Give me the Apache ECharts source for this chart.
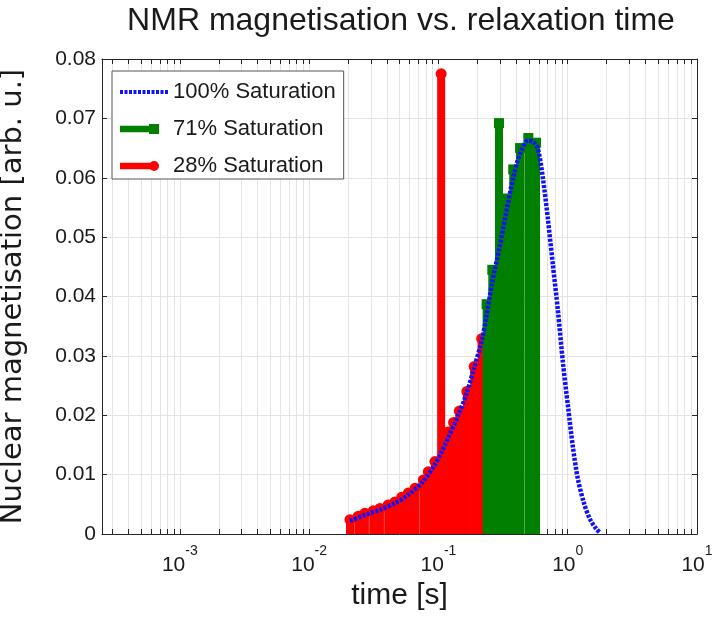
<!DOCTYPE html>
<html>
<head>
<meta charset="utf-8">
<title>NMR magnetisation vs. relaxation time</title>
<script src="https://cdn.jsdelivr.net/npm/echarts@6/dist/echarts.min.js"></script>
<style>
  html, body { margin: 0; padding: 0; background: #fff; }
  #chart { width: 714px; height: 619px; }
</style>
</head>
<body>
<div id="chart"></div>
<script>
  // 100% saturation curve (time in s, magnetisation in arb. u.)
  var fullT = [0.0207, 0.027, 0.0353, 0.0461, 0.0585, 0.0764, 0.094, 0.105, 0.119, 0.143, 0.166, 0.189, 0.216,
               0.236, 0.261, 0.294, 0.33, 0.379, 0.428, 0.496, 0.545, 0.589, 0.644, 0.703, 0.769, 0.841,
               0.919, 1.005, 1.099, 1.2, 1.336, 1.486, 1.655, 1.778];
  var fullV = [0.0022, 0.0032, 0.0041, 0.0052, 0.0066, 0.0089, 0.0117, 0.0137, 0.0162, 0.0201, 0.0238, 0.028, 0.0325,
               0.0368, 0.0425, 0.0478, 0.0535, 0.0600, 0.0641, 0.0663, 0.0660, 0.0648, 0.0598, 0.053, 0.0452, 0.0375,
               0.0288, 0.0215, 0.0145, 0.0092, 0.0052, 0.0025, 0.0009, 0.0002];

  // 71% saturation stems
  var greenT = [0.236, 0.261, 0.294, 0.318, 0.337, 0.379, 0.428, 0.496, 0.569];
  var greenV = [0.0387, 0.0445, 0.0692, 0.0512, 0.0565, 0.0614, 0.0650, 0.0667, 0.0659];

  // 28% saturation stems
  var redT = [0.0207, 0.024, 0.027, 0.0313, 0.0353, 0.0409, 0.0461, 0.052, 0.0585, 0.0659, 0.0764, 0.0836,
              0.094, 0.105, 0.119, 0.131, 0.145, 0.166, 0.189, 0.216];
  var redV = [0.0024, 0.0030, 0.0035, 0.0039, 0.0043, 0.0049, 0.0054, 0.0062, 0.0069, 0.0077, 0.0091, 0.0105,
              0.0122, 0.0775, 0.0172, 0.0188, 0.0207, 0.0240, 0.0282, 0.0329];

  var seriesNames = ['100% Saturation', '71% Saturation', '28% Saturation'];
  var xMin = 0.00025, xMax = 10;
  var majorTicks = [0.001, 0.01, 0.1, 1, 10];

  var font = 'Liberation Sans, Arial, sans-serif';
  var ink = '#1a1a1a';
  var gridColor = '#e4e4e4';

  // decade ticks plus 2..9 minor ticks, like matlab log axes
  var xTicks = [];
  for (var d = -4; d <= 0; d++) {
    for (var k = 1; k <= 9; k++) {
      var tv = k * Math.pow(10, d);
      if (tv >= xMin && tv <= xMax) xTicks.push(tv);
    }
  }
  xTicks.push(xMax);

  function zip(a, b) {
    return a.map(function (v, i) { return [v, b[i]]; });
  }

  // legend icons: dotted line, line+square, line+circle (48x12 box)
  var bluePath = 'path://M0,0M48,12';
  for (var i = 0; i < 11; i++) {
    var x0 = i * 4.5;
    bluePath += 'M' + x0 + ',4H' + (x0 + 3) + 'V8H' + x0 + 'Z';
  }
  var greenPath = 'path://M0,0M48,12M0,2.7H35V9.3H0ZM29,1H39V11H29Z';
  var redPath = 'path://M0,0M48,12M0,2.7H35V9.3H0ZM29,6A5,5 0 1,1 39,6A5,5 0 1,1 29,6Z';

  // stem plot: thick line from 0 up to the value, marker on top
  function stem(marker) {
    return function (params, api) {
      var top = api.coord([api.value(0), api.value(1)]);
      var base = api.coord([api.value(0), 0]);
      var color = api.visual('color');
      var head = marker === 'square'
        ? { type: 'rect', shape: { x: top[0] - 5, y: top[1] - 5, width: 10, height: 10 }, style: { fill: color } }
        : { type: 'circle', shape: { cx: top[0], cy: top[1], r: 5.5 }, style: { fill: color } };
      return {
        type: 'group',
        children: [
          { type: 'line', shape: { x1: base[0], y1: base[1], x2: top[0], y2: top[1] },
            style: { stroke: color, lineWidth: 8 } },
          head
        ]
      };
    };
  }

  var axisLine = { show: true, onZero: false, lineStyle: { color: '#262626', width: 1 } };
  var xTick = { show: true, inside: true, length: 5, customValues: xTicks, lineStyle: { color: '#262626' } };
  var yTick = { show: true, inside: true, length: 5, lineStyle: { color: '#262626' } };

  var option = {
    animation: false,
    backgroundColor: '#fff',
    title: {
      text: 'NMR magnetisation vs. relaxation time',
      left: 396,
      top: 0,
      textAlign: 'center',
      textStyle: { fontFamily: font, fontSize: 32, fontWeight: 'normal', color: ink }
    },
    legend: {
      orient: 'vertical',
      left: 112,
      top: 71,
      selectedMode: false,
      backgroundColor: '#fff',
      borderColor: '#555',
      borderWidth: 1,
      borderRadius: 0,
      padding: [9, 8, 1, 8],
      itemGap: 13,
      itemWidth: 48,
      itemHeight: 12,
      itemStyle: { borderWidth: 0 },
      textStyle: { fontFamily: font, fontSize: 22, color: ink, lineHeight: 24 },
      data: [
        { name: seriesNames[0], icon: bluePath },
        { name: seriesNames[1], icon: greenPath },
        { name: seriesNames[2], icon: redPath }
      ]
    },
    grid: { left: 102, right: 17, top: 59, bottom: 85, outerBoundsMode: 'none' },
    xAxis: [
      {
        type: 'log',
        min: xMin,
        max: xMax,
        name: 'time [s]',
        nameLocation: 'middle',
        nameGap: 31,
        nameTextStyle: { fontFamily: font, fontSize: 30, color: ink },
        axisLine: axisLine,
        axisTick: xTick,
        minorTick: { show: false },
        axisLabel: {
          customValues: majorTicks,
          margin: 10,
          formatter: function (v) {
            return '{b|10}{e|' + Math.round(Math.log10(v)) + '}';
          },
          rich: {
            b: { fontFamily: font, fontSize: 21, color: ink, lineHeight: 32, verticalAlign: 'bottom' },
            e: { fontFamily: font, fontSize: 14, color: ink, lineHeight: 16, verticalAlign: 'top' }
          }
        },
        splitLine: { show: true, lineStyle: { color: gridColor, width: 1 } }
      },
      {
        type: 'log',
        min: xMin,
        max: xMax,
        position: 'top',
        axisLine: axisLine,
        axisTick: xTick,
        axisLabel: { show: false },
        splitLine: { show: false }
      }
    ],
    yAxis: [
      {
        type: 'value',
        min: 0,
        max: 0.08,
        interval: 0.01,
        name: 'Nuclear magnetisation [arb. u.]',
        nameLocation: 'middle',
        nameGap: 74,
        nameTextStyle: { fontFamily: 'DejaVu Sans, sans-serif', fontSize: 29, color: ink },
        axisLine: axisLine,
        axisTick: yTick,
        axisLabel: { fontFamily: font, fontSize: 21, color: ink, margin: 6 },
        splitLine: { show: true, lineStyle: { color: gridColor, width: 1 } }
      },
      {
        type: 'value',
        min: 0,
        max: 0.08,
        interval: 0.01,
        position: 'right',
        axisLine: axisLine,
        axisTick: yTick,
        axisLabel: { show: false },
        splitLine: { show: false }
      }
    ],
    series: [
      {
        name: seriesNames[0],
        type: 'line',
        data: zip(fullT, fullV),
        showSymbol: false,
        smooth: 0.3,
        itemStyle: { color: '#1010ff' },
        lineStyle: { color: '#1010ff', width: 4.5, type: [3, 1.5], cap: 'butt' }
      },
      {
        name: seriesNames[2],
        type: 'custom',
        renderItem: stem('circle'),
        itemStyle: { color: '#ff0000' },
        data: zip(redT, redV)
      },
      {
        name: seriesNames[1],
        type: 'custom',
        renderItem: stem('square'),
        itemStyle: { color: '#007f00' },
        data: zip(greenT, greenV)
      }
    ]
  };

  var myChart = echarts.init(document.getElementById('chart'));
  myChart.setOption(option);
</script>
</body>
</html>
